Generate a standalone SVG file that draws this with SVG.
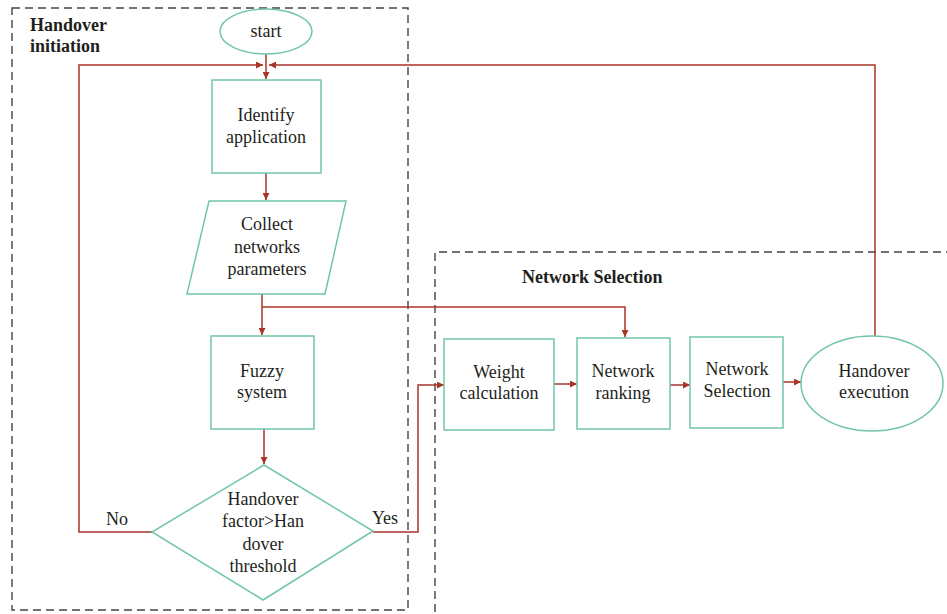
<svg xmlns="http://www.w3.org/2000/svg" width="947" height="614" viewBox="0 0 947 614">
<style>
.node{fill:#fff;stroke:#72c6a8;stroke-width:1.5}
.t{font-family:"Liberation Serif","DejaVu Serif",serif;font-size:18px;fill:#231f20;text-anchor:middle}
.b{font-family:"Liberation Serif","DejaVu Serif",serif;font-size:18px;font-weight:bold;fill:#231f20}
.grp{fill:none;stroke:#444;stroke-width:1.4;stroke-dasharray:8 5}
.c{fill:none;stroke:#a8342a;stroke-width:1.5}
</style>
<defs>
<marker id="ah" viewBox="0 0 10 10" refX="10" refY="5" markerWidth="7" markerHeight="7" markerUnits="userSpaceOnUse" orient="auto">
<path d="M0,0 L10,5 L0,10 z" fill="#a8342a"/>
</marker>
</defs>
<rect width="947" height="614" fill="#fff"/>
<g id="groups">
<rect class="grp" x="12" y="8" width="396" height="602"/>
<text class="b" x="30" y="31">Handover</text>
<text class="b" x="30" y="52">initiation</text>
<path class="grp" d="M435,612 L435,252 L947,252"/>
<text class="b" x="522" y="283">Network Selection</text>
</g>
<g id="connectors">
<path class="c" d="M266,54 L266,79" marker-end="url(#ah)"/>
<path class="c" d="M266,173 L266,200" marker-end="url(#ah)"/>
<path class="c" d="M262,294 L262,335" marker-end="url(#ah)"/>
<path class="c" d="M262,307 L625,307 L625,337" marker-end="url(#ah)"/>
<path class="c" d="M264,429 L264,464" marker-end="url(#ah)"/>
<path class="c" d="M152,532 L79,532 L79,65 L263,65" marker-end="url(#ah)"/>
<path class="c" d="M373,532 L418,532 L418,385 L444,385" marker-end="url(#ah)"/>
<path class="c" d="M554,384 L577,384" marker-end="url(#ah)"/>
<path class="c" d="M670,385 L690,385" marker-end="url(#ah)"/>
<path class="c" d="M783,382 L801,382" marker-end="url(#ah)"/>
<path class="c" d="M875,336 L875,65 L269,65" marker-end="url(#ah)"/>
<text class="t" x="117" y="525">No</text>
<text class="t" x="385" y="524">Yes</text>
</g>
<g id="start">
<ellipse class="node" cx="266" cy="31.5" rx="46" ry="22.5"/>
<text class="t" x="266" y="37">start</text>
</g>
<g id="identify">
<rect class="node" x="212" y="80" width="109" height="93"/>
<text class="t" x="266" y="121">Identify</text>
<text class="t" x="266" y="143">application</text>
</g>
<g id="collect">
<polygon class="node" points="209,201 346,201 325,294 187,294"/>
<text class="t" x="267" y="230">Collect</text>
<text class="t" x="267" y="253">networks</text>
<text class="t" x="267" y="275">parameters</text>
</g>
<g id="fuzzy">
<rect class="node" x="211" y="336" width="103" height="93"/>
<text class="t" x="262" y="377">Fuzzy</text>
<text class="t" x="262" y="398">system</text>
</g>
<g id="decision">
<polygon class="node" points="264,465 373,531 263,600 152,532"/>
<text class="t" x="263" y="505">Handover</text>
<text class="t" x="263" y="527">factor&gt;Han</text>
<text class="t" x="263" y="550">dover</text>
<text class="t" x="263" y="572">threshold</text>
</g>
<g id="weight">
<rect class="node" x="444" y="339" width="110" height="91"/>
<text class="t" x="499" y="378">Weight</text>
<text class="t" x="499" y="399">calculation</text>
</g>
<g id="ranking">
<rect class="node" x="577" y="338" width="93" height="91"/>
<text class="t" x="623" y="377">Network</text>
<text class="t" x="623" y="399">ranking</text>
</g>
<g id="selection">
<rect class="node" x="690" y="337" width="93" height="91"/>
<text class="t" x="737" y="375">Network</text>
<text class="t" x="737" y="397">Selection</text>
</g>
<g id="execution">
<ellipse class="node" cx="872" cy="383.5" rx="71" ry="47.5"/>
<text class="t" x="874" y="377">Handover</text>
<text class="t" x="874" y="398">execution</text>
</g>
</svg>
